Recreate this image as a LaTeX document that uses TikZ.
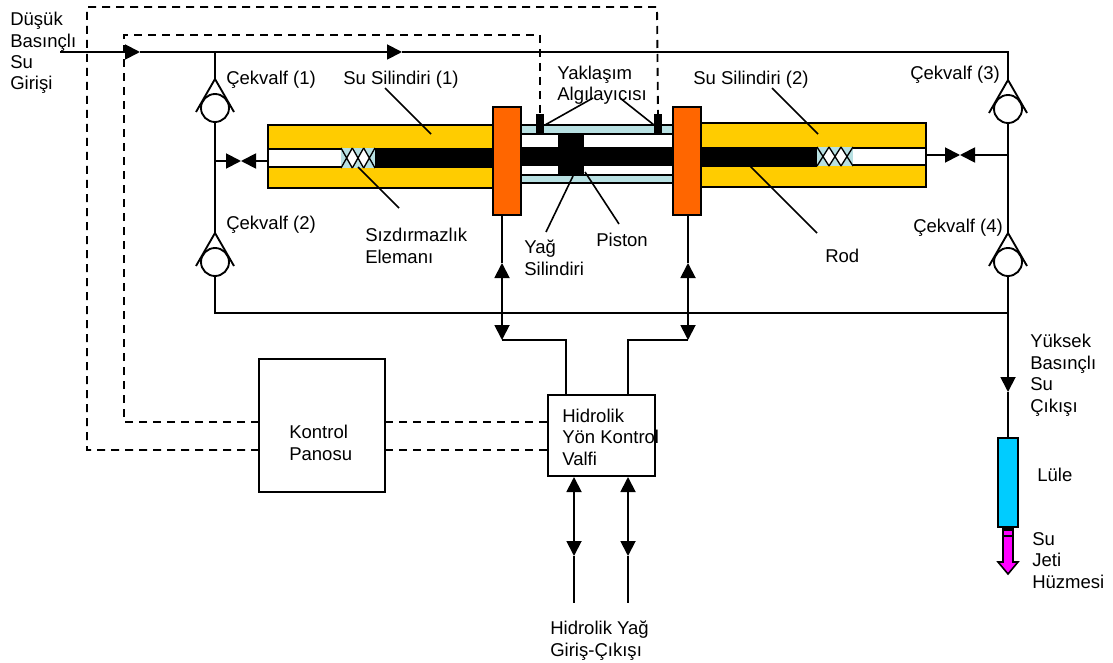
\documentclass[tikz,border=0pt]{standalone}
\usepackage{fontspec}
\setmainfont{Liberation Sans}
\usetikzlibrary{arrows.meta,calc}
\definecolor{cyl}{HTML}{FFCC00}
\definecolor{plate}{HTML}{FF6600}
\definecolor{oil}{HTML}{B8E0E2}
\definecolor{noz}{HTML}{00CCFF}
\definecolor{jet}{HTML}{FF00FF}
\tikzset{
  ln/.style={line width=1.4pt,line cap=butt},
  thin ln/.style={line width=1.2pt},
  dash ln/.style={line width=1.4pt,dash pattern=on 6pt off 4.5pt},
  tip/.style={-{Triangle[length=11.25pt,width=11.25pt,sep=0pt]}},
  tips/.style={{Triangle[length=11.25pt,width=11.25pt,sep=0pt]}-{Triangle[length=11.25pt,width=11.25pt,sep=0pt]}},
  lbl/.style={font=\fontsize{13.9}{16.1}\selectfont,align=left,inner sep=0pt,anchor=base west},
  bxs/.style={draw=black,line width=1.4pt,inner sep=0pt,outer sep=0pt,rectangle},
  cv/.style={draw=black,circle,line width=1.4pt,inner sep=0pt,outer sep=0pt,minimum size=21pt},
}
\newcommand\bx[6]{\node[bxs,#6,minimum width={(#4-#2)*0.75pt},minimum height={(#5-#3)*0.75pt}] (#1) at ({(#2+#4)/2},{(#3+#5)/2}) {};}
\newcommand\checkv[3]{%
  \node[cv] (#1) at (#2,#3) {};
  \coordinate (#1a) at (#2,#3-29);
  \draw[ln] ($(#1a)+(-19,33)$) -- (#1a) -- ($(#1a)+(19,33)$);
}
\newcommand\seal[5]{% x0 y0 segment-width y1 n
  \fill[oil] (#1,#2) rectangle (#1+#3*#5,#4);
  \foreach \i in {2,...,#5}{%
    \fill[white] (#1+#3*\i-#3*1.5,{(#2+#4)/2}) -- (#1+#3*\i-#3,#2) -- (#1+#3*\i-#3*.5,{(#2+#4)/2}) -- (#1+#3*\i-#3,#4) -- cycle;
  }
  \foreach \i in {1,...,#5}{%
    \draw[line width=1pt] (#1+#3*\i-#3,#2) -- (#1+#3*\i,#4) (#1+#3*\i-#3,#4) -- (#1+#3*\i,#2);
  }
}
\begin{document}
\begin{tikzpicture}[x=0.75pt,y=-0.75pt]
\useasboundingbox (0,0) rectangle (1113,663);
% water cylinders
\bx{cylA}{268}{125}{494}{188}{fill=cyl}
\bx{boreA}{268}{149}{345}{167}{fill=white}
\fill (375,148) rectangle (494,168);
\bx{cylB}{701}{123}{926}{187}{fill=cyl}
\bx{boreB}{850}{148}{926}{165}{fill=white}
\fill (701,147) rectangle (817,167);
% seals
\seal{341}{148}{11.33}{168}{3}
\seal{817}{147}{12}{166}{3}
% oil cylinder
\bx{oilT}{521}{125}{673}{134}{fill=oil}
\bx{oilB}{521}{175}{673}{183}{fill=oil}
\fill (521,147) rectangle (673,166);
\fill (558,134) rectangle (584,175);
% plates
\bx{plA}{493}{107}{521}{215}{fill=plate}
\bx{plB}{673}{107}{701}{215}{fill=plate}
% sensors
\bx{senA}{537}{115}{543}{134}{fill=black}
\bx{senB}{655}{115}{661}{134}{fill=black}
% boxes
\bx{panel}{259}{359}{385}{492}{fill=white}
\bx{hyd}{548}{395}{655}{476}{fill=white}
\bx{nozzle}{998}{438}{1018}{527}{fill=noz}
% jet
\draw[line width=1.2pt,fill=jet] (1003,527) -- (1003,562) -- (998,562) -- (1008,574) -- (1018,562) -- (1013,562) -- (1013,527) -- cycle;
\fill (1003,527) rectangle (1013,531);
\draw[line width=1pt] (1003,536) -- (1013,536);
% check valves
\checkv{cvA}{215}{108}
\checkv{cvB}{215}{262}
\checkv{cvC}{1008}{109}
\checkv{cvD}{1008}{262}
% junction coordinates
\coordinate (inS) at (60,52);
\coordinate (inA) at (140,52);
\coordinate (inB) at (402,52);
\coordinate (topL) at (215,52);
\coordinate (topR) at (1008,52);
\coordinate (jA) at (215,161);
\coordinate (vA) at (241,161);
\coordinate (bA) at (268,161);
\coordinate (jC) at (1008,155);
\coordinate (vC) at (960,155);
\coordinate (bC) at (926,155);
\coordinate (botL) at (215,313);
\coordinate (botR) at (1008,313);
\coordinate (outA) at (1008,392);
% water lines
\draw[ln,tip] (inS) -- (inA);
\draw[ln,tip] (inA) -- (inB);
\draw[ln] (inB) -- (topR) -- (cvCa);
\draw[ln] (topL) -- (cvAa);
\draw[ln] (cvA) -- (cvBa);
\draw[ln] (cvB) -- (botL) -- (botR);
\draw[ln] (cvC) -- (cvDa);
\draw[ln] (cvD) -- (botR);
\draw[ln,tip] (botR) -- (outA);
\draw[ln] (outA) -- (nozzle.north);
\draw[ln,tip] (jA) -- (vA);
\draw[ln,tip] (bA) -- (vA);
\draw[ln,tip] (jC) -- (vC);
\draw[ln,tip] (bC) -- (vC);
% hydraulic lines
\coordinate (hA) at (502,340);
\coordinate (hB) at (688,340);
\coordinate (hAu) at (502,263);
\coordinate (hBu) at (688,263);
\coordinate (hC) at (566,340);
\coordinate (hD) at (628,340);
\draw[ln] (hAu) -- (hAu |- plA.south);
\draw[ln] (hBu) -- (hBu |- plB.south);
\draw[ln,tips] (hAu) -- (hA);
\draw[ln,tips] (hBu) -- (hB);
\draw[ln] (hA) -- (hC) -- (hC |- hyd.north);
\draw[ln] (hB) -- (hD) -- (hD |- hyd.north);
\coordinate (oA) at (574,477);
\coordinate (oB) at (628,477);
\coordinate (oAd) at (574,556);
\coordinate (oBd) at (628,556);
\coordinate (oAe) at (574,603);
\coordinate (oBe) at (628,603);
\draw[ln,tips] (oA) -- (oAd);
\draw[ln,tips] (oB) -- (oBd);
\draw[thin ln] (oAd) -- (oAe);
\draw[thin ln] (oBd) -- (oBe);
% dashed signal lines
\coordinate (dA1) at (124,422);
\coordinate (dA2) at (124,35);
\coordinate (dA3) at (540,35);
\coordinate (dB1) at (87,450);
\coordinate (dB2) at (87,7);
\coordinate (dB3) at (657,7);
\draw[dash ln] (panel.west |- dA1) -- (dA1) -- (dA2) -- (dA3) -- (senA.north);
\draw[dash ln] (panel.west |- dB1) -- (dB1) -- (dB2) -- (dB3) -- (senB.north);
\draw[dash ln] (panel.east |- dA1) -- (hyd.west |- dA1);
\draw[dash ln] (panel.east |- dB1) -- (hyd.west |- dB1);
% labels (positions are the baseline of the last line)
\node[lbl] (tIn) at (10,90) {Düşük\\Basınçlı\\Su\\Girişi};
\node[lbl] (tC1) at (226,85) {Çekvalf (1)};
\node[lbl] (tC2) at (226,229) {Çekvalf (2)};
\node[lbl] (tS1) at (343,85) {Su Silindiri (1)};
\node[lbl] (tSe) at (365,263) {Sızdırmazlık\\Elemanı};
\node[lbl] (tY) at (557,101) {Yaklaşım\\Algılayıcısı};
\node[lbl] (tS2) at (693,85) {Su Silindiri (2)};
\node[lbl] (tC3) at (910,80) {Çekvalf (3)};
\node[lbl] (tC4) at (913,232) {Çekvalf (4)};
\node[lbl] (tR) at (825,262) {Rod};
\node[lbl] (tYS) at (524,275) {Yağ\\Silindiri};
\node[lbl] (tP) at (596,246) {Piston};
\node[lbl] (tK) at (289,460) {Kontrol\\Panosu};
\node[lbl] (tH) at (562,465) {Hidrolik\\Yön Kontrol\\Valfi};
\node[lbl] (tO) at (1030,412) {Yüksek\\Basınçlı\\Su\\Çıkışı};
\node[lbl] (tL) at (1037,481) {Lüle};
\node[lbl] (tJ) at (1032,588) {Su\\Jeti\\Hüzmesi};
\node[lbl] (tG) at (550,656) {Hidrolik Yağ\\Giriş-Çıkışı};
% leader lines
\draw[thin ln] (385,88) coordinate (l1a) -- (431,134) coordinate (l1b);
\draw[thin ln] (358,167) coordinate (l2a) -- (399,208) coordinate (l2b);
\draw[thin ln] (593,98) coordinate (l3a) -- (545,125) coordinate (l3b);
\draw[thin ln] (620,98) coordinate (l4a) -- (654,125) coordinate (l4b);
\draw[thin ln] (573,176) coordinate (l5a) -- (546,232) coordinate (l5b);
\draw[thin ln] (585,172) coordinate (l6a) -- (619,224) coordinate (l6b);
\draw[thin ln] (772,88) coordinate (l7a) -- (818,134) coordinate (l7b);
\draw[thin ln] (750,166) coordinate (l8a) -- (817,233) coordinate (l8b);
\end{tikzpicture}
\end{document}
